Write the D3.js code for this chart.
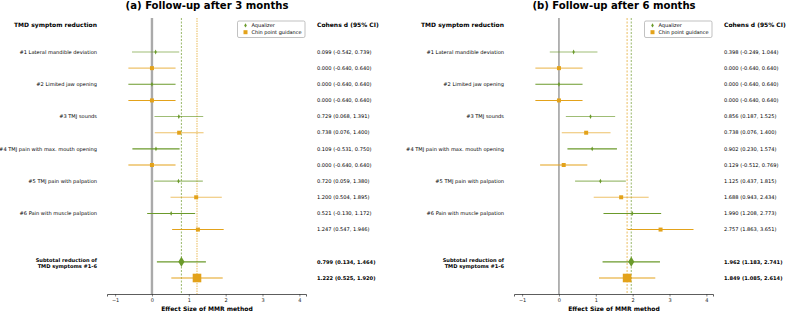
<!DOCTYPE html>
<html>
<head>
<meta charset="utf-8">
<script src="https://cdn.jsdelivr.net/npm/d3@7"></script>
<style>
  body { margin: 0; background: #fff; }
  svg { font-family: "DejaVu Sans", sans-serif; }
</style>
</head>
<body>
<div id="chart"></div>
<script>
// noms des symptomes
var symptomes = ["#1 Lateral mandible deviation", "#2 Limited jaw opening", "#3 TMJ sounds",
    "#4 TMJ pain with max. mouth opening", "#5 TMJ pain with palpation", "#6 Pain with muscle palpation"];
var groupes = ["Aqualizer", "Chin point guidance"];
var ticksX = [-1, 0, 1, 2, 3, 4];

// (a) 3 mois : [d, ci bas, ci haut]
var aqua3 = [[0.099, -0.542, 0.739], [0.000, -0.640, 0.640], [0.729, 0.068, 1.391],
    [0.109, -0.531, 0.750], [0.720, 0.059, 1.380], [0.521, -0.130, 1.172]];
var chin3 = [[0.000, -0.640, 0.640], [0.000, -0.640, 0.640], [0.738, 0.076, 1.400],
    [0.000, -0.640, 0.640], [1.200, 0.504, 1.895], [1.247, 0.547, 1.946]];
var totalAqua3 = [0.799, 0.134, 1.464];
var totalChin3 = [1.222, 0.525, 1.920];

// (b) 6 mois
var aqua6 = [[0.398, -0.249, 1.044], [0.000, -0.640, 0.640], [0.856, 0.187, 1.525],
    [0.902, 0.230, 1.574], [1.125, 0.437, 1.815], [1.990, 1.208, 2.773]];
var chin6 = [[0.000, -0.640, 0.640], [0.000, -0.640, 0.640], [0.738, 0.076, 1.400],
    [0.129, -0.512, 0.769], [1.688, 0.943, 2.434], [2.757, 1.863, 3.651]];
var totalAqua6 = [1.962, 1.183, 2.741];
var totalChin6 = [1.849, 1.085, 2.614];

var vert = "#6b9a2b", orange = "#e3a21a";

var svg = d3.select("#chart").append("svg")
    .attr("width", 787)
    .attr("height", 312);

// echelle verticale : une ligne par rang
var y = d3.scaleLinear().domain([0, 14]).range([52, 278]);

function fmt(v) {
    return v[0].toFixed(3) + " (" + v[1].toFixed(3) + ", " + v[2].toFixed(3) + ")";
}

//----------------------------------------------------------------
// dessine un panneau
//----------------------------------------------------------------
function panneau(dx, titre, aqua, chin, totA, totC, zeroStyle, refLines) {
    var g = svg.append("g").attr("transform", "translate(" + dx + ",0)");
    var x = d3.scaleLinear().domain([-1.22, 4.18]).range([107, 306]);

    g.append("text")
        .attr("x", 207).attr("y", 8.5)
        .attr("text-anchor", "middle")
        .style("font-size", "10.1px").style("font-weight", "bold")
        .text(titre);

    g.append("text").attr("x", 97).attr("y", 27).attr("text-anchor", "end")
        .style("font-size", "6px").style("font-weight", "bold")
        .text("TMD symptom reduction");
    g.append("text").attr("x", 317).attr("y", 27)
        .style("font-size", "6px").style("font-weight", "bold")
        .text("Cohens d (95% CI)");

    // ligne zero
    g.append("line")
        .attr("x1", x(0)).attr("x2", x(0))
        .attr("y1", 18).attr("y2", 294)
        .attr("stroke", zeroStyle.color)
        .attr("stroke-width", zeroStyle.width);

    // lignes de reference (sous-totaux)
    refLines.forEach(function(r) {
        g.append("line")
            .attr("x1", x(r.v)).attr("x2", x(r.v))
            .attr("y1", 18).attr("y2", 294)
            .attr("stroke", r.color)
            .attr("stroke-width", r.width)
            .attr("stroke-opacity", r.op)
            .attr("stroke-dasharray", r.dash);
    });

    // lignes de donnees
    var rows = [];
    aqua.forEach(function(d, i) {
        rows.push({v: d, rang: 2 * i, c: vert, forme: "d", leger: i % 2 == 0, total: false});
        rows.push({v: chin[i], rang: 2 * i + 1, c: orange, forme: "s", leger: i % 2 == 0, total: false});
    });
    rows.push({v: totA, rang: 13, c: vert, forme: "d", leger: false, total: true});
    rows.push({v: totC, rang: 14, c: orange, forme: "s", leger: false, total: true});

    var r = g.selectAll(".row").data(rows).enter().append("g").attr("class", "row");

    r.append("line")
        .attr("x1", function(d) { return x(d.v[1]); })
        .attr("x2", function(d) { return x(d.v[2]); })
        .attr("y1", function(d) { return y(d.rang); })
        .attr("y2", function(d) { return y(d.rang); })
        .attr("stroke", function(d) { return d.c; })
        .attr("stroke-opacity", function(d) { return d.leger ? 0.65 : 1; })
        .attr("stroke-width", 1.1);

    r.append("path")
        .attr("transform", function(d) { return "translate(" + x(d.v[0]) + "," + y(d.rang) + ")"; })
        .attr("d", function(d) {
            if (d.forme == "d") {
                var w = d.total ? 3.1 : 1.2, h = d.total ? 5 : 2.4;
                return "M0," + (-h) + "L" + w + ",0L0," + h + "L" + (-w) + ",0Z";
            }
            var s = d.total ? 4.3 : 2;
            return "M" + (-s) + "," + (-s) + "h" + 2 * s + "v" + 2 * s + "h" + (-2 * s) + "Z";
        })
        .attr("fill", function(d) { return d.c; });

    r.append("text")
        .attr("x", 317)
        .attr("y", function(d) { return y(d.rang); })
        .attr("dy", "0.35em")
        .style("font-size", "5.1px")
        .style("font-weight", function(d) { return d.total ? "bold" : "normal"; })
        .text(function(d) { return fmt(d.v); });

    // noms des symptomes
    g.selectAll(".lab").data(symptomes).enter().append("text")
        .attr("x", 97)
        .attr("y", function(d, i) { return y(2 * i); })
        .attr("dy", "0.35em")
        .attr("text-anchor", "end")
        .style("font-size", "5.1px")
        .text(function(d) { return d; });

    var sub = g.append("text").attr("x", 97).attr("text-anchor", "end")
        .style("font-size", "5.1px").style("font-weight", "bold");
    sub.append("tspan").attr("x", 97).attr("y", 262).text("Subtotal reduction of");
    sub.append("tspan").attr("x", 97).attr("y", 267.8).text("TMD symptoms #1-6");

    // axe x
    var axe = g.append("g")
        .attr("transform", "translate(0,294)")
        .call(d3.axisBottom(x).tickValues(ticksX).tickSize(2.5).tickPadding(1.8).tickFormat(d3.format("d")));
    axe.select(".domain").attr("stroke", "#333").attr("stroke-width", 0.8);
    axe.selectAll(".tick line").attr("stroke", "#333").attr("stroke-width", 0.6);
    axe.selectAll(".tick text").style("font-size", "5px").attr("fill", "#222")
        .style("font-family", "DejaVu Sans, sans-serif");

    g.append("text")
        .attr("x", 207).attr("y", 311)
        .attr("text-anchor", "middle")
        .style("font-size", "6.05px").style("font-weight", "bold")
        .text("Effect Size of MMR method");

    // legende
    var lg = g.append("g").attr("transform", "translate(237.5,21)");
    lg.append("rect").attr("width", 67.5).attr("height", 16.5).attr("rx", 1.5)
        .attr("fill", "#fff").attr("stroke", "#999").attr("stroke-width", 0.6);
    lg.append("path").attr("d", "M8,2.2L9.3,4.4L8,6.6L6.7,4.4Z").attr("fill", vert);
    lg.append("rect").attr("x", 6).attr("y", 9.2).attr("width", 4).attr("height", 4).attr("fill", orange);
    lg.selectAll(".lt").data(groupes).enter().append("text")
        .attr("x", 14)
        .attr("y", function(d, i) { return 4.4 + i * 6.8; })
        .attr("dy", "0.35em")
        .style("font-size", "5px")
        .text(function(d) { return d; });
}

panneau(0, "(a) Follow-up after 3 months", aqua3, chin3, totalAqua3, totalChin3,
    {color: "#aaa", width: 2.4},
    [{v: totalAqua3[0], color: vert, width: 0.7, op: 1, dash: "2,1.5"},
     {v: totalChin3[0], color: orange, width: 1.6, op: 0.45, dash: "1.5,1"}]);

panneau(407, "(b) Follow-up after 6 months", aqua6, chin6, totalAqua6, totalChin6,
    {color: "#777", width: 1.1},
    [{v: totalAqua6[0], color: vert, width: 0.7, op: 1, dash: "2,1.5"},
     {v: totalChin6[0], color: orange, width: 0.7, op: 1, dash: "2,1.5"}]);
</script>
</body>
</html>
